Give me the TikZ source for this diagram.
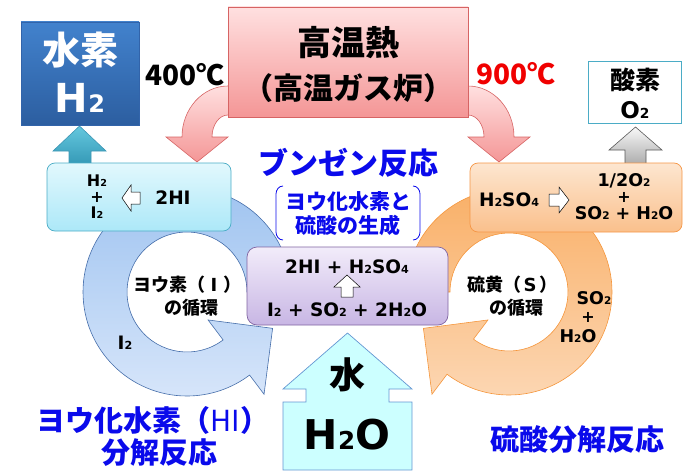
\documentclass[tikz,border=0pt]{standalone}
\usepackage{fontspec}
\setmainfont{Noto Sans CJK JP}
\newfontfamily\lat{DejaVu Sans}
\usepackage{graphicx}
\newcommand\chs[1]{\scalebox{0.6}{#1}}
\newcommand\setfs[1]{\fontsize{#1}{#1}\selectfont}
\newcommand\wlet[1]{\makebox[1em]{\lat #1}}
\definecolor{ringBlueTop}{RGB}{160,196,240}
\definecolor{ringBlueBot}{RGB}{214,229,250}
\definecolor{ringBlueLine}{RGB}{70,110,170}
\definecolor{ringOrTop}{RGB}{249,176,104}
\definecolor{ringOrBot}{RGB}{252,214,178}
\definecolor{ringOrLine}{RGB}{245,150,60}
\definecolor{heatTop}{RGB}{255,224,224}
\definecolor{heatBot}{RGB}{244,150,150}
\definecolor{heatLine}{RGB}{214,100,100}
\definecolor{cyTop}{RGB}{226,248,253}
\definecolor{cyBot}{RGB}{172,232,248}
\definecolor{cyLine}{RGB}{75,172,198}
\definecolor{orTop}{RGB}{253,230,208}
\definecolor{orBot}{RGB}{250,192,140}
\definecolor{orLine}{RGB}{245,150,70}
\definecolor{puTop}{RGB}{242,236,250}
\definecolor{puBot}{RGB}{200,182,228}
\definecolor{puLine}{RGB}{128,100,162}
\definecolor{hTop}{RGB}{66,130,205}
\definecolor{hBot}{RGB}{44,94,160}
\definecolor{hLine}{RGB}{50,100,170}
\definecolor{tealTop}{RGB}{100,200,222}
\definecolor{tealBot}{RGB}{40,140,172}
\definecolor{tealLine}{RGB}{60,150,180}
\definecolor{grayTop}{RGB}{248,248,248}
\definecolor{grayBot}{RGB}{150,150,150}
\definecolor{grayLine}{RGB}{90,90,90}
\definecolor{waterFill}{RGB}{204,255,255}
\definecolor{waterLine}{RGB}{100,150,210}
\definecolor{jpblue}{RGB}{10,10,235}
\definecolor{hotred}{RGB}{240,0,0}
\tikzset{
  txt/.style={inner sep=0pt, outer sep=0pt},
  chem/.style={txt, font=\lat\bfseries\setfs{18.5}},
  stack/.style={txt, font=\lat\bfseries\setfs{16}},
  hollow/.style={draw=black, fill=white, line width=0.5pt, line join=miter},
  boxbase/.style={inner sep=0pt, line width=0.7pt},
}
\begin{document}
\begin{tikzpicture}[x=1pt,y=1pt]
\useasboundingbox (0,0) rectangle (684,475);

% ---- cycle rings ----
\begin{scope}[shift={(187,183)}]
\shade[top color=ringBlueTop,bottom color=ringBlueBot,draw=ringBlueLine,line width=0.6pt]
  (0:104) arc (0:307:104) -- (307:128) -- (337:93) -- (307:35) -- (307:60) arc (307:0:60) -- cycle;
\end{scope}
\begin{scope}[shift={(509,183)}]
\shade[top color=ringOrTop,bottom color=ringOrBot,draw=ringOrLine,line width=0.6pt]
  (180:103) arc (180:-127:103) -- (-127:128) -- (-157:93) -- (-127:35) -- (-127:59) arc (-127:180:59) -- cycle;
\end{scope}

% ---- heat arrows ----
\shade[top color=heatTop,bottom color=heatBot,draw=heatLine,line width=0.6pt]
  (236,389) -- (228,389) arc[start angle=90,end angle=180,x radius=46,y radius=51]
  -- (166,338) -- (197,313) -- (228,338) -- (212,338)
  arc[start angle=180,end angle=90,x radius=16,y radius=22] -- (236,360) -- cycle;
\shade[top color=heatTop,bottom color=heatBot,draw=heatLine,line width=0.6pt]
  (460,389) -- (468,389) arc[start angle=90,end angle=0,x radius=46,y radius=51]
  -- (530,338) -- (499,313) -- (468,338) -- (484,338)
  arc[start angle=0,end angle=90,x radius=16,y radius=22] -- (460,360) -- cycle;

% ---- heat box ----
\node[boxbase, draw=heatLine, top color=heatTop, bottom color=heatBot,
      minimum width=240pt, minimum height=110pt] (heat) at (348,413) {};
\node[txt, font=\bfseries\setfs{34}] (heatA) at (348,432) {高温熱};
\node[txt, font=\bfseries\setfs{30}] (heatB) at (348,387) {（高温ガス炉）};

% ---- temperatures ----
\node[txt, font=\bfseries\setfs{28}] (t400) at (185,400) {400℃};
\node[txt, font=\bfseries\setfs{28}, text=hotred] (t900) at (516,401) {900℃};

% ---- hydrogen output ----
\shade[top color=tealTop,bottom color=tealBot,draw=tealLine,line width=0.6pt]
  (69,300) -- (69,324) -- (53,324) -- (79.5,349) -- (106,324) -- (91,324) -- (91,300) -- cycle;
\node[boxbase, draw=hLine, top color=hTop, bottom color=hBot,
      minimum width=118pt, minimum height=103pt] (h2box) at (80,401.5) {};
\node[txt, text=white, font=\bfseries\setfs{38}] (h2a) at (80,425) {水素};
\node[txt, text=white, font=\lat\bfseries\setfs{40}] (h2b) at (80,377) {H\chs{2}};

% ---- HI decomposition box ----
\node[boxbase, draw=cyLine, top color=cyTop, bottom color=cyBot, rounded corners=8pt,
      minimum width=184pt, minimum height=68pt] (hi) at (139,278) {};
\node[stack] (hiA) at (97,294) {H\chs{2}};
\node[stack] (hiB) at (97,278) {+};
\node[stack] (hiC) at (97,262) {I\chs{2}};
\draw[hollow] (122,277) -- (131,290) -- (131,283) -- (140,283) -- (140,271) -- (131,271) -- (131,264) -- cycle;
\node[chem] (hiD) at (173,277) {2HI};

% ---- oxygen output ----
\shade[top color=grayTop,bottom color=grayBot,draw=grayLine,line width=0.6pt]
  (625,300) -- (625,325) -- (609,325) -- (635.5,348) -- (662,325) -- (646,325) -- (646,300) -- cycle;
\node[boxbase, draw=cyLine, line width=1.5pt, fill=white,
      minimum width=93pt, minimum height=62pt] (o2) at (635,382.5) {};
\node[txt, font=\bfseries\setfs{25}] (o2a) at (635,395) {酸素};
\node[txt, font=\lat\bfseries\setfs{23}] (o2b) at (635,365) {O\chs{2}};

% ---- sulfuric acid decomposition box ----
\node[boxbase, draw=orLine, top color=orTop, bottom color=orBot, rounded corners=8pt,
      minimum width=212pt, minimum height=69pt] (so) at (576,277.5) {};
\node[chem] (soA) at (509,275) {H\chs{2}SO\chs{4}};
\draw[hollow] (569,275) -- (559,288) -- (559,281) -- (549,281) -- (549,269) -- (559,269) -- (559,262) -- cycle;
\node[stack, font=\lat\bfseries\setfs{17.5}] (soB) at (624,294) {1/2O\chs{2}};
\node[stack] (soC) at (624,278) {+};
\node[stack, font=\lat\bfseries\setfs{17.5}] (soD) at (624,262) {SO\chs{2} + H\chs{2}O};

% ---- Bunsen reaction ----
\node[txt, text=jpblue, font=\bfseries\setfs{30}] (bunT) at (348,312) {ブンゼン反応};
\node[txt, text=jpblue, font=\bfseries\setfs{21}] (bunS1) at (348,273) {ヨウ化水素と};
\node[txt, text=jpblue, font=\bfseries\setfs{21}] (bunS2) at (348,250) {硫酸の生成};
\draw[jpblue, line width=0.8pt] (283,289) to[out=180,in=90] (276,281) -- (276,243) to[out=-90,in=180] (283,235);
\draw[jpblue, line width=0.8pt] (413,289) to[out=0,in=90] (420,281) -- (420,243) to[out=-90,in=0] (413,235);

\node[boxbase, draw=puLine, top color=puTop, bottom color=puBot, rounded corners=10pt,
      minimum width=201pt, minimum height=78pt] (bun) at (347.5,189) {};
\node[chem] (bunA) at (347,208) {2HI + H\chs{2}SO\chs{4}};
\draw[hollow] (347,200) -- (360,188) -- (353,188) -- (353,178) -- (341,178) -- (341,188) -- (334,188) -- cycle;
\node[chem] (bunB) at (347,165) {I\chs{2} + SO\chs{2} + 2H\chs{2}O};

% ---- water input ----
\draw[fill=waterFill, draw=waterLine, line width=0.7pt]
  (283,5) -- (283,73) -- (306,73) -- (306,86) -- (283,86) -- (347.5,142) -- (412,86)
  -- (389,86) -- (389,73) -- (412,73) -- (412,5) -- cycle;
\node[txt, font=\bfseries\setfs{36}] (wA) at (347,100) {水};
\node[txt, font=\lat\bfseries\setfs{41}] (wB) at (347,40) {H\chs{2}O};

% ---- cycle labels ----
\node[txt, font=\bfseries\setfs{18}] (iA) at (187,190) {ヨウ素（\wlet{I}）};
\node[txt, font=\bfseries\setfs{18}] (iB) at (191,167) {の循環};
\node[chem] (iC) at (125,132) {I\chs{2}};
\node[txt, font=\bfseries\setfs{18}] (sA) at (512,190) {硫黄（\wlet{S}）};
\node[txt, font=\bfseries\setfs{18}] (sB) at (516,167) {の循環};
\node[stack, font=\lat\bfseries\setfs{17.5}] (sC) at (594,177) {SO\chs{2}};
\node[stack] (sD) at (588,158) {+};
\node[stack, font=\lat\bfseries\setfs{17.5}] (sE) at (578,139) {H\chs{2}O};

% ---- reaction names ----
\node[txt, text=jpblue, font=\bfseries\setfs{29}] (nHI1) at (153,55) {ヨウ化水素（{\mdseries HI}）};
\node[txt, text=jpblue, font=\bfseries\setfs{29}] (nHI2) at (159,22) {分解反応};
\node[txt, text=jpblue, font=\bfseries\setfs{29}] (nSO) at (577,35) {硫酸分解反応};
\end{tikzpicture}
\end{document}
